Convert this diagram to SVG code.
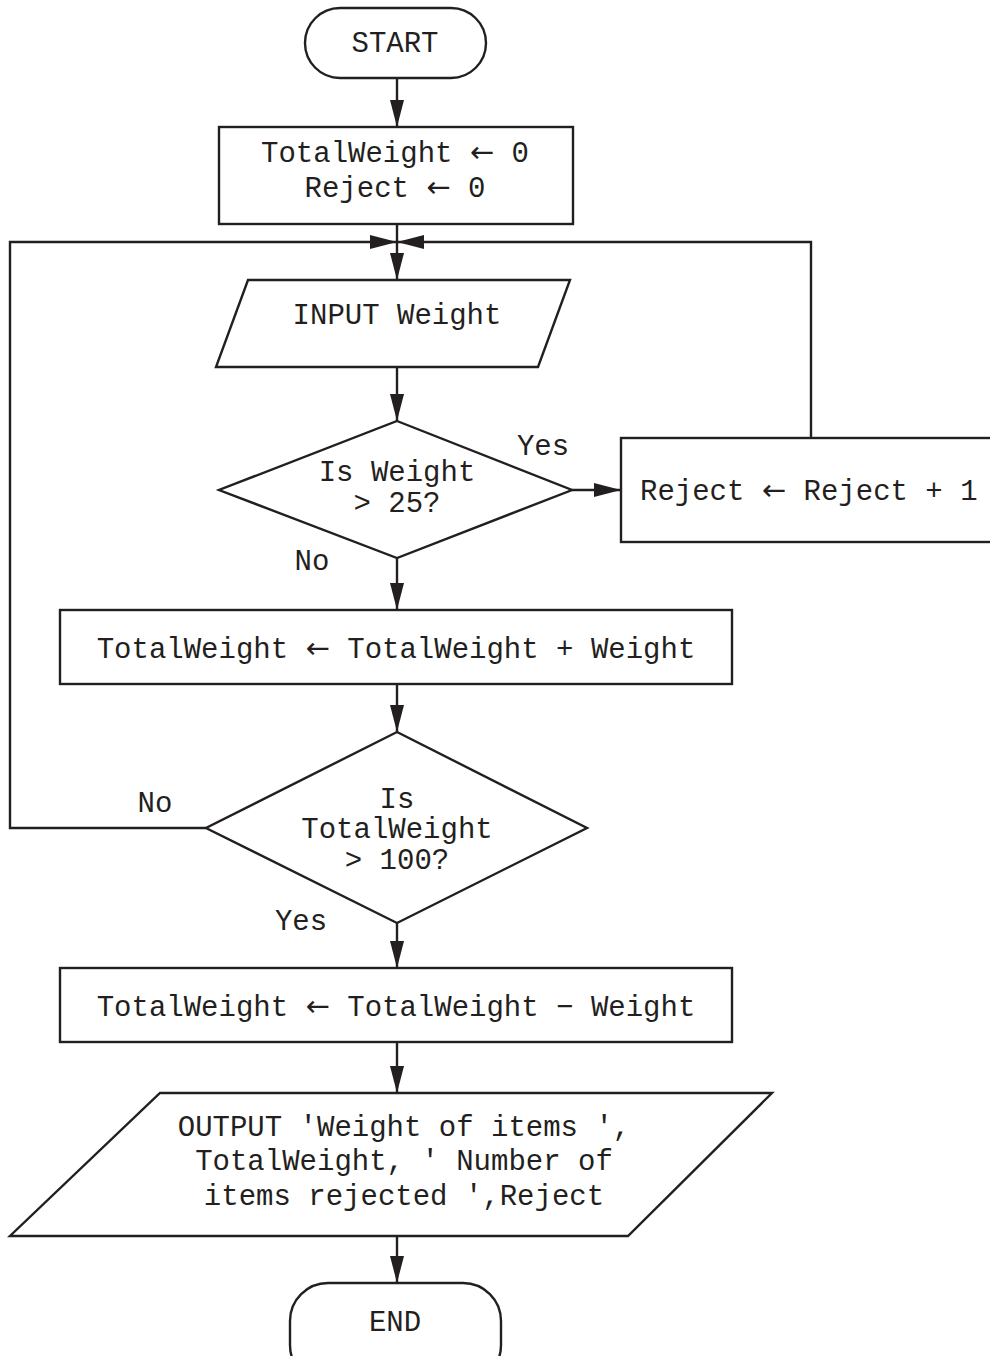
<svg xmlns="http://www.w3.org/2000/svg" width="990" height="1356" viewBox="0 0 990 1356">
<defs>
<style>
.s{fill:#fff;stroke:#231f20;stroke-width:2.4}
.c{fill:none;stroke:#231f20;stroke-width:2.4}
text{font-family:"Liberation Mono","Courier New",monospace;font-size:29px;fill:#231f20;text-anchor:middle}
.l{text-anchor:start}
.ar{font-family:"DejaVu Sans",sans-serif;font-size:29px}
</style>
<marker id="a" markerUnits="userSpaceOnUse" markerWidth="28" markerHeight="14" refX="27" refY="7" orient="auto">
<path d="M0,0 L27,7 L0,14 z" fill="#231f20"/>
</marker>
</defs>
<rect width="990" height="1356" fill="#fff"/>
<g id="connectors">
<line class="c" x1="397" y1="78" x2="397" y2="127" marker-end="url(#a)"/>
<line class="c" x1="397" y1="224" x2="397" y2="280" marker-end="url(#a)"/>
<polyline class="c" points="206,828 10,828 10,242 397,242" marker-end="url(#a)"/>
<polyline class="c" points="811,438 811,242 397,242" marker-end="url(#a)"/>
<line class="c" x1="397" y1="367" x2="397" y2="421" marker-end="url(#a)"/>
<line class="c" x1="572" y1="490" x2="621" y2="490" marker-end="url(#a)"/>
<line class="c" x1="397" y1="558" x2="397" y2="610" marker-end="url(#a)"/>
<line class="c" x1="397" y1="684" x2="397" y2="732" marker-end="url(#a)"/>
<line class="c" x1="397" y1="923" x2="397" y2="968" marker-end="url(#a)"/>
<line class="c" x1="397" y1="1042" x2="397" y2="1093" marker-end="url(#a)"/>
<line class="c" x1="397" y1="1236" x2="397" y2="1283" marker-end="url(#a)"/>
<text x="543" y="455">Yes</text>
<text x="312" y="570">No</text>
<text x="155" y="812">No</text>
<text x="301" y="930">Yes</text>
</g>
<g id="start">
<rect class="s" x="305" y="8" width="181" height="70" rx="35"/>
<text x="395" y="52">START</text>
</g>
<g id="init">
<rect class="s" x="219" y="127" width="354" height="97"/>
<text x="395" y="162">TotalWeight <tspan class="ar">←</tspan> 0</text>
<text x="395" y="197">Reject <tspan class="ar">←</tspan> 0</text>
</g>
<g id="input">
<polygon class="s" points="248,280 570,280 538,367 216,367"/>
<text x="397" y="324">INPUT Weight</text>
</g>
<g id="dec1">
<polygon class="s" points="397,421 572,490 397,558 219,490"/>
<text x="397" y="481">Is Weight</text>
<text x="397" y="512">&gt; 25?</text>
</g>
<g id="reject">
<rect class="s" x="621" y="438" width="390" height="104"/>
<text class="l" x="640" y="500">Reject <tspan class="ar">←</tspan> Reject + 1</text>
</g>
<g id="add">
<rect class="s" x="60" y="610" width="672" height="74"/>
<text x="396" y="658">TotalWeight <tspan class="ar">←</tspan> TotalWeight + Weight</text>
</g>
<g id="dec2">
<polygon class="s" points="397,732 587,828 397,923 206,828"/>
<text x="397" y="808">Is</text>
<text x="397" y="838">TotalWeight</text>
<text x="397" y="869">&gt; 100?</text>
</g>
<g id="sub">
<rect class="s" x="60" y="968" width="672" height="74"/>
<text x="396" y="1016">TotalWeight <tspan class="ar">←</tspan> TotalWeight − Weight</text>
</g>
<g id="output">
<polygon class="s" points="160,1093 772,1093 628,1236 10,1236"/>
<text x="404" y="1136">OUTPUT 'Weight of items ',</text>
<text x="404" y="1170">TotalWeight, ' Number of</text>
<text x="404" y="1205">items rejected ',Reject</text>
</g>
<g id="end">
<rect class="s" x="290" y="1283" width="211" height="100" rx="38"/>
<text x="395" y="1331">END</text>
</g>
</svg>
